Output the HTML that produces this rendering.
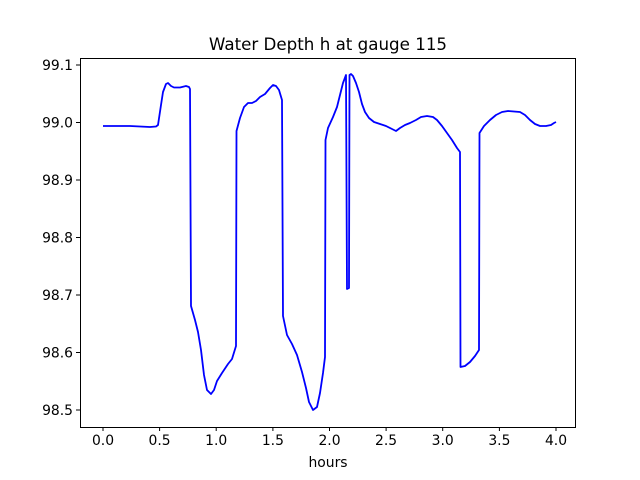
<!DOCTYPE html>
<html><head><meta charset="utf-8"><style>body{margin:0;background:#fff}svg{display:block}text{font-family:"DejaVu Sans","Liberation Sans",sans-serif;font-size:13.9px;fill:#000}</style></head>
<body>
<svg width="640" height="480" viewBox="0 0 640 480">
<rect width="640" height="480" fill="#fff"/>
<text x="328" y="50" text-anchor="middle" style="font-size:16.7px">Water Depth h at gauge 115</text>
<polyline fill="none" stroke="#0000ff" stroke-width="1.8" stroke-linejoin="round" points="
103,126 130,126 150,127 156,126.5 158,125 161,105 163,92 166,84 168,83 171,86 174,87.5 180,87.5 186,86 189,87 190,89 191,306 195,320 198,332 201,350 204,375 207,390 211,394 214,390 217,381 222,373 228,364 232,359 236,346 236.5,131 240,118 244,107 248,103 252,103 256,101 260,97 265,94 270,88 273,85 276,86 279,90 282,100 283,316 287,335 292,344 297,355 302,372 306,388 309,402 313,410 317,407 320,393 323,373 325,357 325.5,140 328,128 333,117 337,107 340,95 343,83 346,75 347,289 349,288 349.5,75 351,74 353,76 356,83 359,92 362,104 365,112 369,118 374,122 380,124 386,126 392,129 396,131 400,128 405,125 410,123 416,120 421,117 427,116 433,117 437,120 442,126 447,133 452,140 457,148 460,152 460.5,367 465,366 470,362 475,356 479,350 479.5,133 484,126 490,120 496,115 502,112 508,111 514,111.5 520,112 525,115 530,120 535,124 540,126 546,126 551,125 554,123 556,122"/>
<rect x="80.5" y="58.5" width="495" height="369" fill="none" stroke="#000" stroke-width="1"/>
<g stroke="#000" stroke-width="1">
<line x1="103" y1="427" x2="103" y2="431"/><line x1="159.6" y1="427" x2="159.6" y2="431"/><line x1="216.2" y1="427" x2="216.2" y2="431"/><line x1="272.9" y1="427" x2="272.9" y2="431"/><line x1="329.5" y1="427" x2="329.5" y2="431"/><line x1="386.1" y1="427" x2="386.1" y2="431"/><line x1="442.7" y1="427" x2="442.7" y2="431"/><line x1="499.4" y1="427" x2="499.4" y2="431"/><line x1="556" y1="427" x2="556" y2="431"/>
<line x1="76" y1="65" x2="80" y2="65"/><line x1="76" y1="122.5" x2="80" y2="122.5"/><line x1="76" y1="180" x2="80" y2="180"/><line x1="76" y1="237.5" x2="80" y2="237.5"/><line x1="76" y1="295" x2="80" y2="295"/><line x1="76" y1="352.5" x2="80" y2="352.5"/><line x1="76" y1="410" x2="80" y2="410"/>
</g>
<g text-anchor="middle">
<text x="103" y="445">0.0</text><text x="159.6" y="445">0.5</text><text x="216.2" y="445">1.0</text><text x="272.9" y="445">1.5</text><text x="329.5" y="445">2.0</text><text x="386.1" y="445">2.5</text><text x="442.7" y="445">3.0</text><text x="499.4" y="445">3.5</text><text x="556" y="445">4.0</text>
<text x="328" y="467">hours</text>
</g>
<g text-anchor="end">
<text x="73" y="70">99.1</text><text x="73" y="127.5">99.0</text><text x="73" y="185">98.9</text><text x="73" y="242.5">98.8</text><text x="73" y="300">98.7</text><text x="73" y="357.5">98.6</text><text x="73" y="415">98.5</text>
</g>
</svg>
</body></html>
